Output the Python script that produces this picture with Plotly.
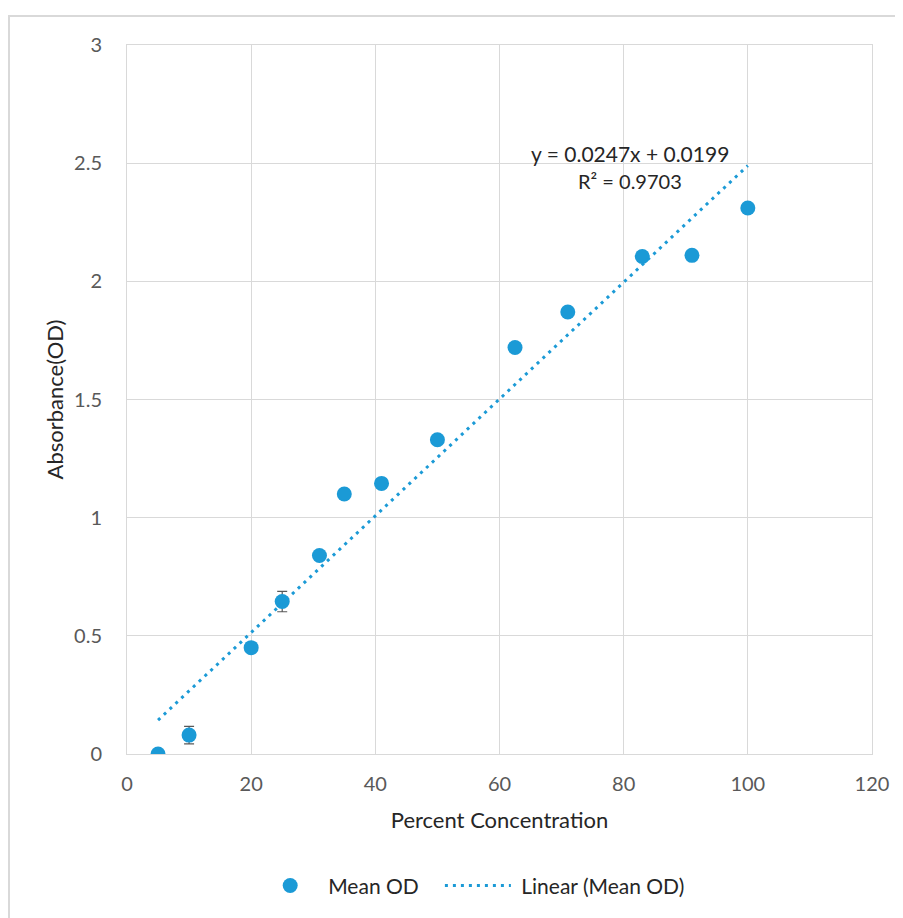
import plotly.graph_objects as go

# Data
concentration = [5, 10, 20, 25, 31, 35, 41, 50, 62.5, 71, 83, 91, 100]
mean_od = [0.0, 0.08, 0.45, 0.645, 0.84, 1.10, 1.145, 1.33, 1.72, 1.87, 2.105, 2.11, 2.31]
od_error = [0.01, 0.037, 0.02, 0.043, 0.015, 0.01, 0.01, 0.01, 0.01, 0.01, 0.015, 0.01, 0.015]

# Linear trendline (as shown in the chart's equation)
slope = 0.0247
intercept = 0.0199
trend_x = [5, 100]
trend_y = [slope * x + intercept for x in trend_x]

x_ticks = [0, 20, 40, 60, 80, 100, 120]
y_ticks = [0, 0.5, 1, 1.5, 2, 2.5, 3]
y_tick_labels = ["0", "0.5", "1", "1.5", "2", "2.5", "3"]

BLUE = "#1b9ad6"
FONT = "Lato"
NBSP = "\u00a0"

fig = go.Figure()
fig.add_trace(go.Scatter(
    x=concentration, y=mean_od, mode="markers", name="Mean OD" + NBSP * 3,
    marker=dict(color=BLUE, size=15),
    error_y=dict(type="data", array=od_error, color="#595959", thickness=1.2, width=5),
))
fig.add_trace(go.Scatter(
    x=trend_x, y=trend_y, mode="lines", name=NBSP + "Linear (Mean OD)",
    line=dict(color=BLUE, width=3, dash="3px,5px"),
))

fig.add_annotation(x=81, y=2.543, text="y = 0.0247x + 0.0199", showarrow=False,
                   font=dict(family=FONT, size=21, color="#262626"))
fig.add_annotation(x=81, y=2.425, text="R² = 0.9703", showarrow=False,
                   font=dict(family=FONT, size=20, color="#262626"))

# outer chart border
fig.add_shape(type="rect", xref="paper", yref="paper",
              x0=-0.1584, x1=1.06, y0=-0.26, y1=1.0409,
              line=dict(color="#d9d9d9", width=2), layer="below")

fig.update_layout(
    width=895, height=910,
    margin=dict(l=119, r=31, t=37, b=164),
    paper_bgcolor="white", plot_bgcolor="white",
    font=dict(family=FONT, color="#595959"),
    showlegend=True,
    legend=dict(orientation="h", x=0.462, xanchor="center", y=-0.186, yanchor="middle",
                font=dict(family=FONT, size=21, color="#262626"), itemwidth=66,
                tracegroupgap=0),
    xaxis=dict(
        range=[0, 120], tickvals=x_ticks, ticktext=[str(v) for v in x_ticks],
        showgrid=True, gridcolor="#d9d9d9", gridwidth=1,
        showline=True, mirror=True, linecolor="#d9d9d9", linewidth=1,
        zeroline=False, ticks="", ticklabelstandoff=12,
        tickfont=dict(family=FONT, size=20, color="#595959"),
        title=dict(text="Percent Concentration", standoff=18,
                   font=dict(family=FONT, size=22, color="#262626")),
    ),
    yaxis=dict(
        range=[0, 3], tickvals=y_ticks, ticktext=y_tick_labels,
        showgrid=True, gridcolor="#d9d9d9", gridwidth=1,
        showline=True, mirror=True, linecolor="#d9d9d9", linewidth=1,
        zeroline=False, ticks="", ticklabelstandoff=20,
        tickfont=dict(family=FONT, size=20, color="#595959"),
        title=dict(text="Absorbance(OD)", standoff=4,
                   font=dict(family=FONT, size=22, color="#262626")),
    ),
)

fig.write_html("out.html")
